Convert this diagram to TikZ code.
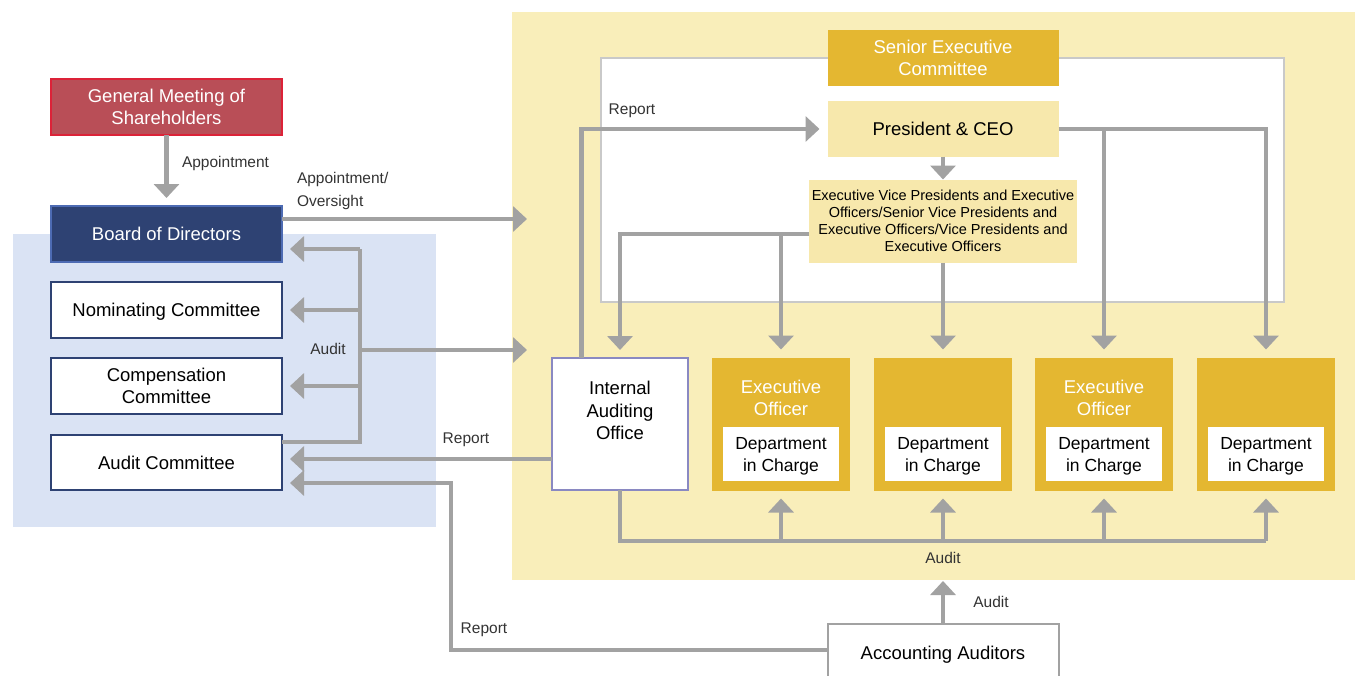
\documentclass[tikz,border=0pt]{standalone}
\usepackage{fontspec}
\setmainfont{Liberation Sans}
\usetikzlibrary{arrows.meta,positioning}
\definecolor{gmred}{HTML}{B94E57}
\definecolor{gmline}{HTML}{DC2238}
\definecolor{navy}{HTML}{2E4273}
\definecolor{navyline}{HTML}{4D6BB3}
\definecolor{paleblue}{HTML}{DAE3F4}
\definecolor{paleyellow}{HTML}{F9EEBA}
\definecolor{gold}{HTML}{E4B731}
\definecolor{flowgray}{HTML}{A2A2A2}
\definecolor{framegray}{HTML}{C9C9C9}
\definecolor{iaoline}{HTML}{8A89C2}
\definecolor{txtgray}{HTML}{333333}

\begin{document}
\begin{tikzpicture}[x=1pt, y=-1pt, every node/.append style={outer sep=0pt},
  box/.style={draw, line width=1.6pt, minimum width=231pt, minimum height=56pt,
    inner sep=0pt, text depth=0pt, align=center, font=\fontsize{18.5}{22}\selectfont},
  cbox/.style={box, draw=navy, fill=white},
  unit/.style={fill=gold, minimum width=138pt, minimum height=133pt, inner sep=0pt},
  dept/.style={fill=white, minimum width=116pt, minimum height=54pt, inner sep=0pt},
  depttxt/.style={align=center, inner sep=0pt, font=\fontsize{17.5}{22}\selectfont},
  lbl/.style={text=txtgray, font=\fontsize{15.5}{23}\selectfont, align=left, inner sep=0pt},
  line/.style={draw=flowgray, line width=4.5pt},
  arr/.style={line, -{Triangle[width=25pt,length=14pt]}, shorten >=8pt},
  free/.style={line, -{Triangle[width=25pt,length=14pt]}}]
\useasboundingbox (0,0) rectangle (1355,675);
% regions
\fill[paleblue] (13,234) rectangle (436,527);
\fill[paleyellow] (512,12) rectangle (1355,580);
\draw[framegray, line width=2pt, fill=white] (601,58) rectangle (1284,302);
% governance side
\node[box, fill=gmred, draw=gmline, text=white] (gm) at (166.5,107)
  {General Meeting of\\Shareholders};
\node[box, fill=navy, draw=navyline, text=white, below=71pt of gm] (bod) {Board of Directors};
\node[cbox, below=20pt of bod] (nom) {Nominating Committee};
\node[cbox, below=20pt of nom] (comp) {Compensation\\Committee};
\node[cbox, below=21pt of comp, minimum height=55pt] (ac) {Audit Committee};
% execution side
\node[box, draw=none, fill=gold, text=white, minimum height=56pt] (sec) at (943,57.5)
  {Senior Executive\\Committee};
\node[box, draw=none, fill=paleyellow!90!gold, below=15pt of sec] (pceo) {President \& CEO};
\node[fill=paleyellow!90!gold, minimum width=268pt, minimum height=83pt, inner sep=0pt,
  text depth=0pt, align=center, font=\fontsize{14.5}{17}\selectfont, below=23pt of pceo] (evp)
  {Executive Vice Presidents and Executive\\Officers/Senior Vice Presidents and\\
   Executive Officers/Vice Presidents and\\Executive Officers};
\node[draw=iaoline, line width=1.6pt, fill=white, minimum width=136pt, minimum height=132pt,
  inner sep=0pt] (iao) at (620,424) {};
\node[align=center, font=\fontsize{18.5}{22.5}\selectfont] (iaoText) at (620,410.5)
  {Internal\\Auditing\\Office};
\node[unit, right=24pt of iao] (eo1) {};
\node[unit, right=24pt of eo1] (eo2) {};
\node[unit, right=23pt of eo2] (eo3) {};
\node[unit, right=24pt of eo3] (eo4) {};
\foreach \u in {1,...,4}{
  \node[dept] (d\u) at ([yshift=-29.5pt]eo\u.center) {};
  \node[depttxt] (t\u) at ([yshift=-32pt]eo\u.center) {Department\\in Charge};
}
\node[text=white, align=center, font=\fontsize{18.5}{22}\selectfont] (x1)
  at ([yshift=26pt]eo1.center) {Executive\\Officer};
\node[text=white, align=center, font=\fontsize{18.5}{22}\selectfont] (x3)
  at ([yshift=26pt]eo3.center) {Executive\\Officer};
\node[box, draw=flowgray, fill=white, line width=2pt, minimum height=58pt] (aa) at (943,653)
  {Accounting Auditors};
% junctions and free ends
\coordinate (aoTip) at (527,219);
\coordinate (busTop) at (360,249);
\coordinate (busBot) at (360,442);
\coordinate (auTip) at (527,350);
\coordinate (rep1) at (552,459);
\coordinate (rep2) at (451,483);
\coordinate (rep3) at (451,650);
\coordinate (repTop) at (581.5,129);
\coordinate (evpL) at (620,234);
\coordinate (ceoR) at (1266,129);
\coordinate (audBus) at (620,541);
\coordinate (aaTip) at (943,581);
% connectors
\draw[arr] (gm) -- (bod);
\draw[free] (bod.east |- aoTip) -- (aoTip);
\draw[line] (ac.east |- busBot) -- (busBot) -- (busTop);
\draw[arr] (busTop) -- (bod.east |- busTop);
\draw[arr] (busTop |- nom) -- (nom);
\draw[arr] (busTop |- comp) -- (comp);
\draw[free] (busTop |- auTip) -- (auTip);
\draw[arr] (rep1) -- (ac.east |- rep1);
\draw[arr] (aa.west |- rep3) -- (rep3) -- (rep2) -- (ac.east |- rep2);
\draw[arr] (iao.north -| repTop) -- (repTop) -- (pceo.west |- repTop);
\draw[arr, shorten >=0pt] (pceo) -- (evp);
\draw[arr] (evp.west |- evpL) -- (evpL) -- (iao);
\draw[arr] (eo1 |- evpL) -- (eo1);
\draw[arr] (evp) -- (eo2);
\draw[arr] (pceo.east |- ceoR) -- (ceoR) -- (eo4);
\draw[arr] (eo3 |- ceoR) -- (eo3);
\draw[line] (iao) -- (audBus) -- (eo4 |- audBus);
\foreach \u in {eo1,eo2,eo3,eo4}
  \draw[arr] (\u |- audBus) -- (\u);
\draw[free] (aa) -- (aaTip);
% labels
\node[lbl, anchor=west] (l1) at (182,163) {Appointment};
\node[lbl, anchor=west] (l2) at (297,190.5) {Appointment/\\Oversight};
\node[lbl] (l3) at (328,349) {Audit};
\node[lbl] (l4) at (466,440) {Report};
\node[lbl] (l5) at (484,630) {Report};
\node[lbl] (l6) at (632,111) {Report};
\node[lbl] (l7) at (943,558) {Audit};
\node[lbl] (l8) at (991,602) {Audit};
\end{tikzpicture}
\end{document}
